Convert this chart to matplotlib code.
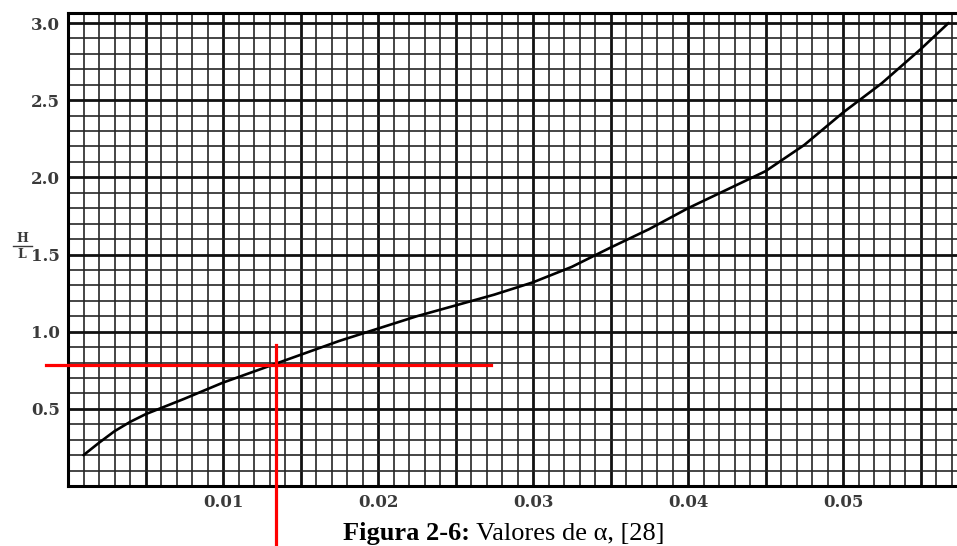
import matplotlib
matplotlib.use("Agg")
import matplotlib.pyplot as plt
from matplotlib.lines import Line2D
import numpy as np

# curve (x = alpha-ish parameter, y = H/L)
curve_x = [0.001, 0.002, 0.003, 0.004, 0.005, 0.006, 0.0075, 0.010, 0.0125,
           0.015, 0.0175, 0.020, 0.0225, 0.025, 0.0275, 0.030, 0.0325, 0.035,
           0.0375, 0.040, 0.0425, 0.045, 0.0475, 0.050, 0.0525, 0.055, 0.0568]
curve_y = [0.20, 0.28, 0.355, 0.415, 0.465, 0.505, 0.565, 0.67, 0.76,
           0.85, 0.94, 1.02, 1.10, 1.17, 1.24, 1.32, 1.42, 1.545,
           1.665, 1.80, 1.92, 2.04, 2.21, 2.42, 2.61, 2.83, 3.00]

x_ticks = [0.01, 0.02, 0.03, 0.04, 0.05]
x_tick_labels = ["0.01", "0.02", "0.03", "0.04", "0.05"]
y_ticks = [0.5, 1.0, 1.5, 2.0, 2.5, 3.0]
y_tick_labels = ["0.5", "1.0", "1.5", "2.0", "2.5", "3.0"]

# red reading lines drawn over the scan
read_x = 0.0134
read_y = 0.784
hline_span = (-0.00142, 0.0273)
vline_span = (-0.45, 0.914)

caption_bold = "Figura 2-6:"
caption_rest = " Valores de α, [28]"

W, H = 957, 546
fig = plt.figure(figsize=(W / 100, H / 100), dpi=100)
fig.patch.set_facecolor("white")

left_px, right_px, top_px, bottom_px = 68, 957, 13, 486
ax = fig.add_axes([left_px / W, (H - bottom_px) / H,
                   (right_px - left_px) / W, (bottom_px - top_px) / H])

ax.set_xlim(0, 0.05735)
ax.set_ylim(0, 3.065)

# graph paper grid
for xv in np.arange(0.001, 0.0575, 0.001):
    major = abs(xv / 0.005 - round(xv / 0.005)) < 1e-6
    ax.axvline(xv, color="#111111" if major else "#262626",
               lw=2.0 if major else 1.2, zorder=1)
for yv in np.arange(0.1, 3.061, 0.1):
    major = abs(yv / 0.5 - round(yv / 0.5)) < 1e-6
    ax.axhline(yv, color="#111111" if major else "#262626",
               lw=2.0 if major else 1.2, zorder=1)

ax.plot(curve_x, curve_y, color="black", lw=1.9, zorder=3,
        solid_capstyle="round", solid_joinstyle="round")

for side in ["left", "bottom", "top"]:
    ax.spines[side].set_linewidth(2.2)
    ax.spines[side].set_color("black")
ax.spines["right"].set_visible(False)

ax.set_xticks(x_ticks)
ax.set_xticklabels(x_tick_labels)
ax.set_yticks(y_ticks)
ax.set_yticklabels(y_tick_labels)
ax.tick_params(length=0, pad=6, labelcolor="#3a3a3a")
for lab in ax.get_xticklabels() + ax.get_yticklabels():
    lab.set_fontfamily("DejaVu Serif")
    lab.set_fontweight("bold")
    lab.set_fontsize(12)

# H/L axis label drawn as a small fraction
fig.text(22 / W, 1 - 238 / H, "H", ha="center", va="center",
         fontsize=9, fontweight="bold", family="DejaVu Serif", color="#3a3a3a")
fig.text(22 / W, 1 - 254 / H, "L", ha="center", va="center",
         fontsize=9, fontweight="bold", family="DejaVu Serif", color="#3a3a3a")
fig.add_artist(Line2D([13 / W, 32 / W], [1 - 246 / H, 1 - 246 / H],
                      color="#3a3a3a", lw=1.0))

# red reading lines
ax.plot(hline_span, [read_y, read_y], color="#ff0000", lw=2.3,
        clip_on=False, zorder=5)
ax.plot([read_x, read_x], vline_span, color="#ff0000", lw=2.3,
        clip_on=False, zorder=5)

# caption
t1 = fig.text(343 / W, 1 - 540 / H, caption_bold, ha="left", va="baseline",
              fontsize=19, fontweight="bold", family="Liberation Serif")
fig.canvas.draw()
bb = t1.get_window_extent()
fig.text(bb.x1 / W, 1 - 540 / H, caption_rest, ha="left", va="baseline",
         fontsize=19, family="Liberation Serif")

fig.savefig("out.png", dpi=100, facecolor="white")
